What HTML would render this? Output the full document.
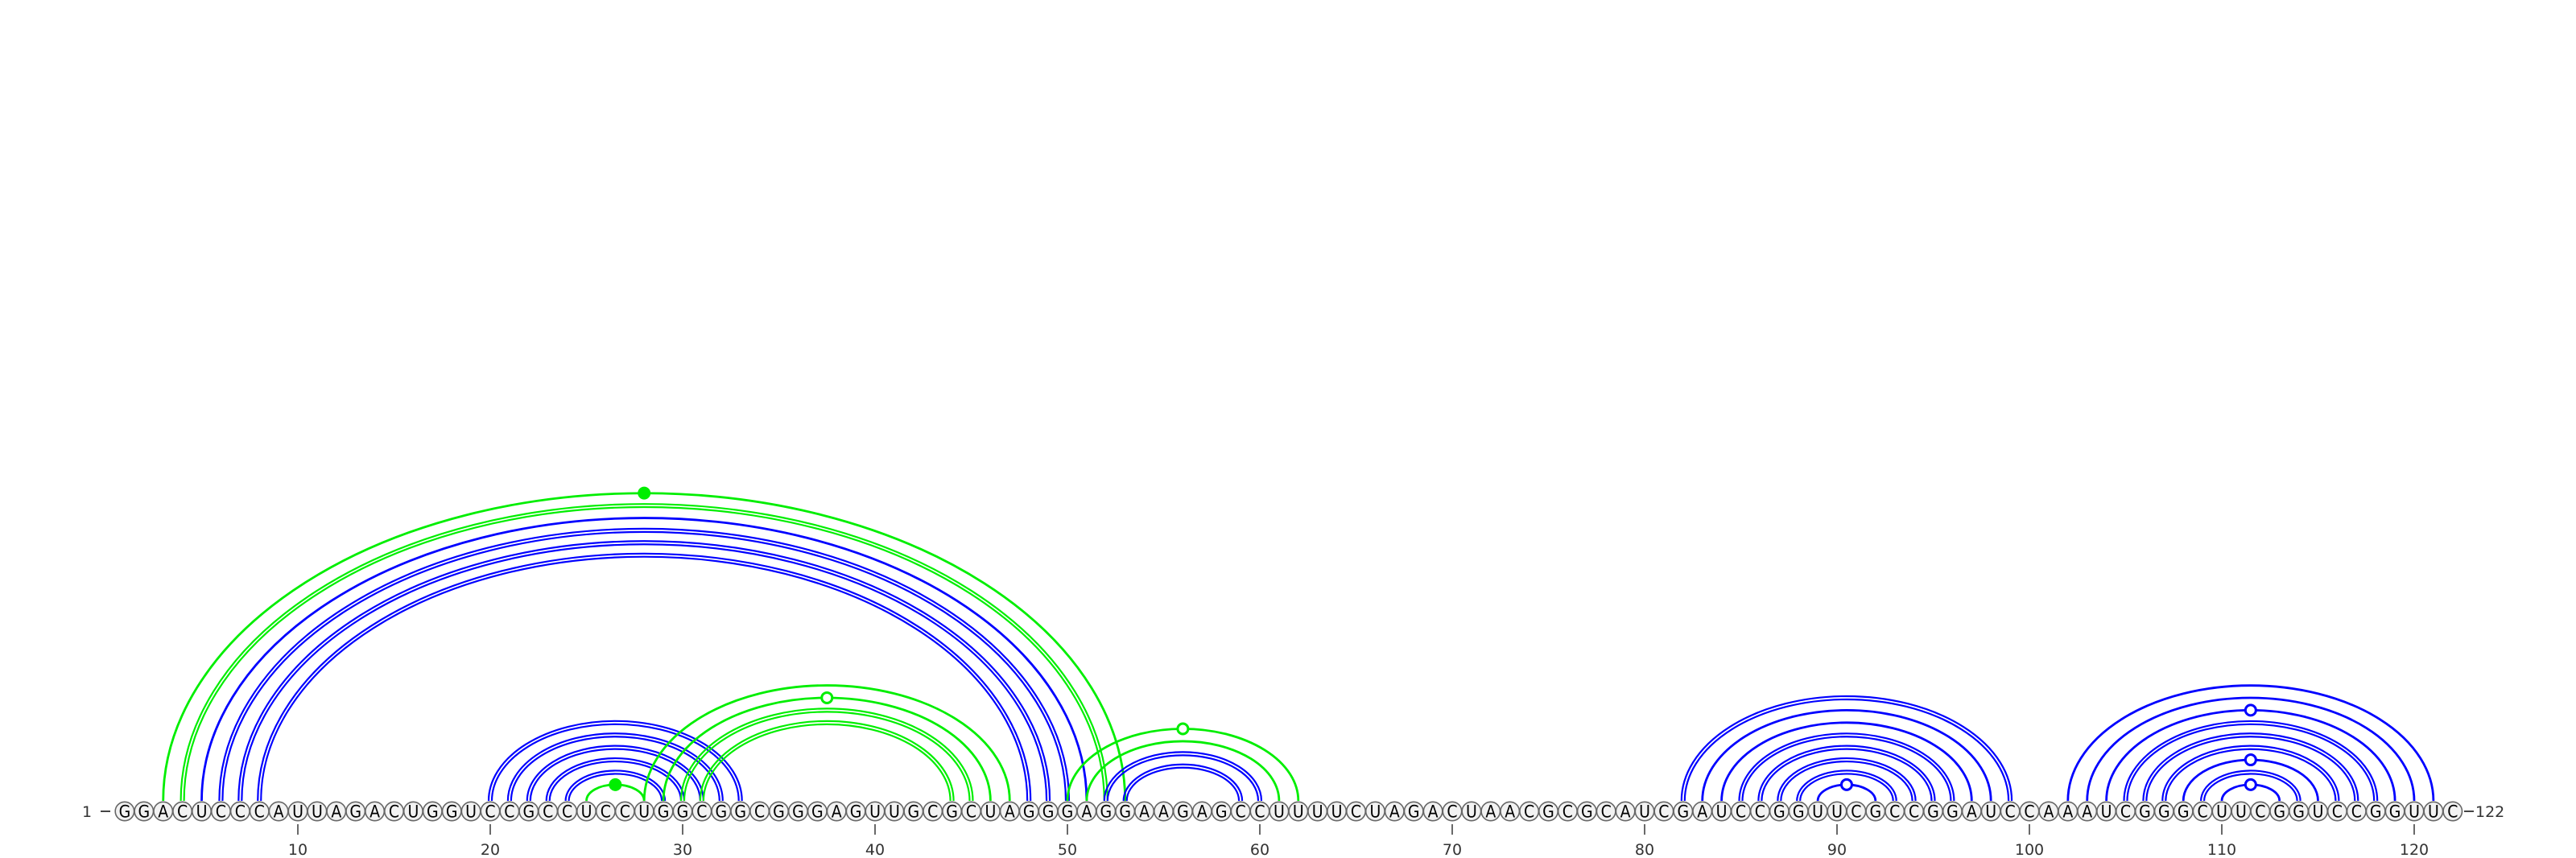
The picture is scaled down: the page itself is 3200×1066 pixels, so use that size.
<!DOCTYPE html>
<html><head><meta charset="utf-8"><style>
html,body{margin:0;padding:0;background:#fff;}
svg{display:block;}
</style></head><body>
<svg id="chart" width="3200" height="1066" viewBox="0 0 3200 1066" xmlns="http://www.w3.org/2000/svg">
<g id="arcs"></g>
<g id="nts"></g>
<g id="axis"></g>
</svg>
<script>
const sequence = "GGACUCCCAUUAGACUGGUCCGCCUCCUGGCGGCGGGAGUUGCGCUAGGGAGGAAGAGCCUUUUCUAGACUAACGCGCAUCGAUCCGGUUCGCCGGAUCCAAAUCGGGCUUCGGUCCGGUUC";
const pairStart = [3,4,5,6,7,8, 20,21,22,23,24,25, 28,29,30,31, 50,51,52,53, 82,83,84,85,86,87,88,89, 102,103,104,105,106,107,108,109,110];
const pairEnd   = [53,52,51,50,49,48, 33,32,31,30,29,28, 47,46,45,44, 62,61,60,59, 99,98,97,96,95,94,93,92, 121,120,119,118,117,116,115,114,113];
const pairColor = ["g","g","b","b","b","b", "b","b","b","b","b","g", "g","g","g","g", "g","g","b","b", "b","b","b","b","b","b","b","b", "b","b","b","b","b","b","b","b","b"];
const pairDouble= [0,1,0,1,1,1, 1,1,1,1,1,0, 0,0,1,1, 0,0,1,1, 1,0,0,1,1,1,1,0, 0,0,0,1,1,1,0,1,0];
const pairDot   = ["F","","","","","", "","","","","","F", "","O","","", "O","","","", "","","","","","","","O", "","","O","","","","O","","O"];
const tickValues = [10,20,30,40,50,60,70,80,90,100,110,120];

const NS = "http://www.w3.org/2000/svg";
const X0 = 609, STEP = 23.9, BASE = 995, CY = 1008;
function xPos(i){ return X0 + (i - 20) * STEP; }
function arcHeight(half){ return 0.645 * half - 3; }
const COLORS = {g:"#00ee00", b:"#0000ff"};

const arcs = document.getElementById('arcs');
function arcPath(x1, x2, rx, ry){
  return `M${x1},${BASE} A${rx},${ry} 0 0 1 ${x2},${BASE}`;
}
for (let k = 0; k < pairStart.length; k++) {
  const x1 = xPos(pairStart[k]), x2 = xPos(pairEnd[k]);
  const half = (x2 - x1) / 2, h = arcHeight(half), cx = (x1 + x2) / 2;
  const col = COLORS[pairColor[k]];
  const g = document.createElementNS(NS, 'g');
  
  
  const offs = pairDouble[k] ? [-2, 2] : [0];
  offs.forEach(o => {
    const p = document.createElementNS(NS, 'path');
    
    
    p.setAttribute('d', arcPath(x1 - o, x2 + o, half + o, h + o));
    p.setAttribute('fill', 'none');
    p.setAttribute('stroke', col);
    p.setAttribute('stroke-width', pairDouble[k] ? 2.2 : 2.8);
    g.appendChild(p);
  });
  if (pairDot[k]) {
    const c = document.createElementNS(NS, 'circle');
    
    
    c.setAttribute('cx', cx);
    c.setAttribute('cy', BASE - h);
    if (pairDot[k] === 'F') { c.setAttribute('r', 8); c.setAttribute('fill', col); }
    else { c.setAttribute('r', 6.5); c.setAttribute('fill', '#fff'); c.setAttribute('stroke', col); c.setAttribute('stroke-width', 3); }
    g.appendChild(c);
  }
  arcs.appendChild(g);
}

const nts = document.getElementById('nts');
for (let i = 1; i <= sequence.length; i++) {
  const g = document.createElementNS(NS, 'g');
  
  
  const c = document.createElementNS(NS, 'circle');
  c.setAttribute('cx', xPos(i)); c.setAttribute('cy', CY); c.setAttribute('r', 11.7);
  c.setAttribute('fill', '#f2f2f2'); c.setAttribute('stroke', '#666'); c.setAttribute('stroke-width', 1.6);
  g.appendChild(c);
  const t = document.createElementNS(NS, 'text');
  t.setAttribute('x', xPos(i)); t.setAttribute('y', CY + 7.5);
  t.setAttribute('text-anchor', 'middle');
  t.setAttribute('font-family', '"DejaVu Sans Condensed","DejaVu Sans","Liberation Sans",sans-serif');
  t.setAttribute('font-size', '21'); t.setAttribute('fill', '#000');
  t.textContent = sequence[i - 1];
  g.appendChild(t);
  nts.appendChild(g);
}

const axis = document.getElementById('axis');
tickValues.forEach(v => {
  const l = document.createElementNS(NS, 'line');
  
  
  l.setAttribute('x1', xPos(v)); l.setAttribute('x2', xPos(v));
  l.setAttribute('y1', 1024); l.setAttribute('y2', 1037);
  l.setAttribute('stroke', '#444'); l.setAttribute('stroke-width', 1.6);
  axis.appendChild(l);
  const t = document.createElementNS(NS, 'text');
  
  
  t.setAttribute('x', xPos(v)); t.setAttribute('y', 1062);
  t.setAttribute('text-anchor', 'middle');
  t.setAttribute('font-family', '"DejaVu Sans","Liberation Sans",sans-serif');
  t.setAttribute('font-size', '19'); t.setAttribute('fill', '#333');
  t.textContent = v;
  axis.appendChild(t);
});
</script>
<svg style="position:absolute;left:0;top:0" width="3200" height="1066">
<text x="108" y="1015" text-anchor="middle" font-family="DejaVu Sans, Liberation Sans, sans-serif" font-size="19" fill="#333">1</text>
<line x1="125" y1="1008" x2="137" y2="1008" stroke="#444" stroke-width="2"/>
<line x1="3061" y1="1008" x2="3073" y2="1008" stroke="#444" stroke-width="2"/>
<text x="3075" y="1015" font-family="DejaVu Sans, Liberation Sans, sans-serif" font-size="19" fill="#333">122</text>
</svg>
</body></html>
